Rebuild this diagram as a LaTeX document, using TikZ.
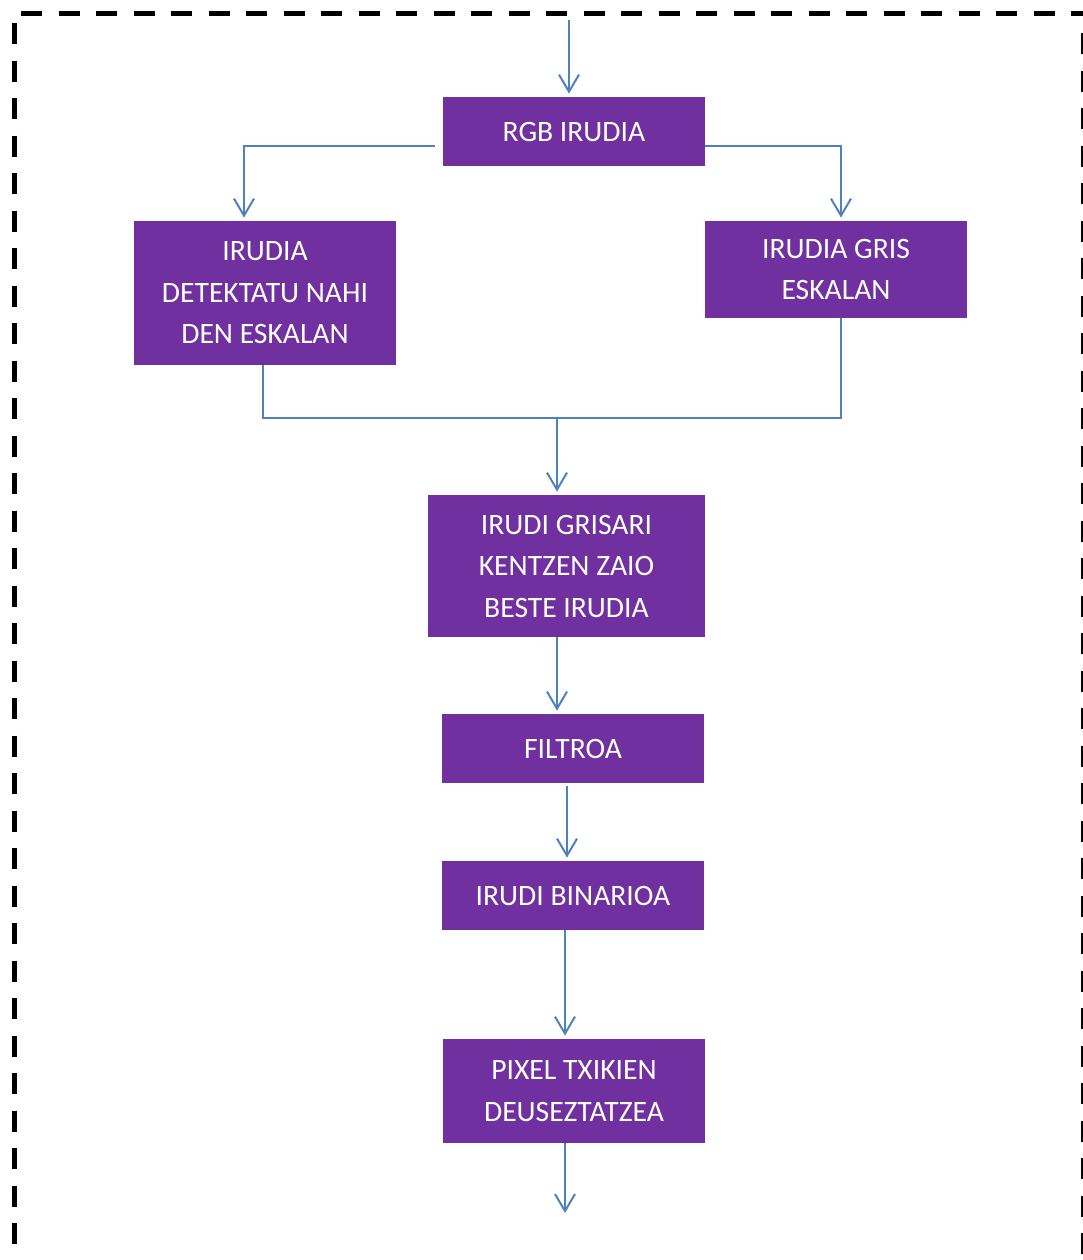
\documentclass[tikz,border=0pt]{standalone}
\usepackage{fontspec}
\setmainfont{Carlito}
\usetikzlibrary{arrows.meta}
\definecolor{morea}{RGB}{112,48,160}
\definecolor{urdina}{RGB}{79,129,189}

\begin{document}
\begin{tikzpicture}[x=0.5pt,y=-0.5pt]
	\tikzstyle{prozesua}=[rectangle, fill=morea, text=white, inner sep=0pt,
	minimum width=131pt, align=center, font=\fontsize{14.8}{20.75}\selectfont]
	\tikzstyle{lerroa}=[urdina, line width=1pt]
	\tikzstyle{gezia}=[lerroa, -{Straight Barb[length=8.5pt,width=10pt]}, shorten >=1.5pt]
	\tikzstyle{ertza}=[line width=2.5pt, dash pattern=on 10.5pt off 8.25pt]
	
	\useasboundingbox (0,0) rectangle (1083,1260);
	
	% dashed frame
	\draw[ertza] (21,13) -- (1095,13);
	\draw[ertza] (14,23) -- (14,1270);
	\draw[ertza] (1083,33) -- (1083,1270);
	
	\node[prozesua, minimum height=34.5pt] at (574,131.5) (rgb) {RGB IRUDIA};
	\node[prozesua, minimum height=72pt] at (265,293) (eskala) {IRUDIA\\DETEKTATU NAHI\\DEN ESKALAN};
	\node[prozesua, minimum height=48.5pt] at (836,269.5) (gris) {IRUDIA GRIS\\ESKALAN};
	\node[prozesua, minimum width=138.5pt, minimum height=71pt] at (566.5,566) (kenketa) {IRUDI GRISARI\\KENTZEN ZAIO\\BESTE IRUDIA};
	\node[prozesua, minimum height=34.5pt] at (573,748.5) (filtroa) {FILTROA};
	\node[prozesua, minimum height=34.5pt] at (573,895.5) (binarioa) {IRUDI BINARIOA};
	\node[prozesua, minimum height=52pt] at (574,1091) (pixel) {PIXEL TXIKIEN\\DEUSEZTATZEA};
	
	\coordinate (sarrera) at (569,20);
	\coordinate (bilgunea) at (557,418);
	\coordinate (irteera) at (565,1216);
	
	\draw[gezia] (sarrera) -- (sarrera |- rgb.north);
	\draw[gezia] ([xshift=-4pt,yshift=-7.25pt]rgb.west) -| ([xshift=-10.5pt]eskala.north);
	\draw[gezia] ([yshift=-7.25pt]rgb.east) -| ([xshift=2.5pt]gris.north);
	\draw[lerroa] ([xshift=-1pt]eskala.south) |- ([xshift=2.5pt]gris.south |- bilgunea) -- ([xshift=2.5pt]gris.south);
	\draw[gezia] (bilgunea) -- (bilgunea |- kenketa.north);
	\draw[gezia] ([xshift=-4.75pt]kenketa.south) -- ([xshift=-4.75pt]kenketa.south |- filtroa.north);
	\draw[gezia] ([xshift=-3pt,yshift=-1.5pt]filtroa.south) -- ([xshift=-3pt]binarioa.north);
	\draw[gezia] ([xshift=-4pt]binarioa.south) -- ([xshift=-4pt]binarioa.south |- pixel.north);
	\draw[gezia] (pixel.south -| irteera) -- (irteera);
\end{tikzpicture}
\end{document}
